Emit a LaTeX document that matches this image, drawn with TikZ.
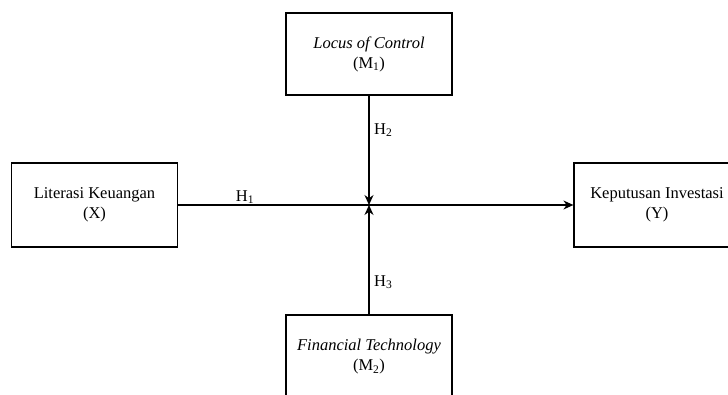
\documentclass[tikz,border=0pt]{standalone}
\usepackage{fontspec}
\setmainfont{Liberation Serif}
\usetikzlibrary{arrows.meta}
\begin{document}
\begin{tikzpicture}[
    x=1pt, y=1pt,
    box/.style={draw, line width=1.2pt, rectangle, minimum width=166pt, minimum height=84pt, align=center, font=\fontsize{16.5}{20}\selectfont, inner sep=0pt},
    arrow/.style={-{Stealth[length=10pt, width=9pt]}, line width=1.2pt},
    lbl/.style={font=\fontsize{16.5}{18}\selectfont, inner sep=1pt},
]
\useasboundingbox (0,0) rectangle (728,394);
\clip (0,0) rectangle (728,394);

% Variabel
\node[box] (lit) at (94.5,189) {Literasi Keuangan\\(X)};
\node[box] (kep) at (657,189) {Keputusan Investasi\\(Y)};
\node[box, minimum height=82pt] (loc) at (369,340) {\textit{Locus of Control}\\(M\textsubscript{1})};
\node[box] (fin) at (369,37) {\textit{Financial Technology}\\(M\textsubscript{2})};

% Titik moderasi
\coordinate (mid) at (369,189);

% Hubungan
\draw[arrow] (lit) -- (kep);
\draw[arrow] (loc) -- (mid);
\draw[arrow] (fin) -- (mid);

% Hipotesis
\node[lbl, anchor=south] (h1) at (245,189) {H\textsubscript{1}};
\node[lbl, anchor=west] (h2) at (373,264) {H\textsubscript{2}};
\node[lbl, anchor=west] (h3) at (373,112) {H\textsubscript{3}};
\end{tikzpicture}
\end{document}
